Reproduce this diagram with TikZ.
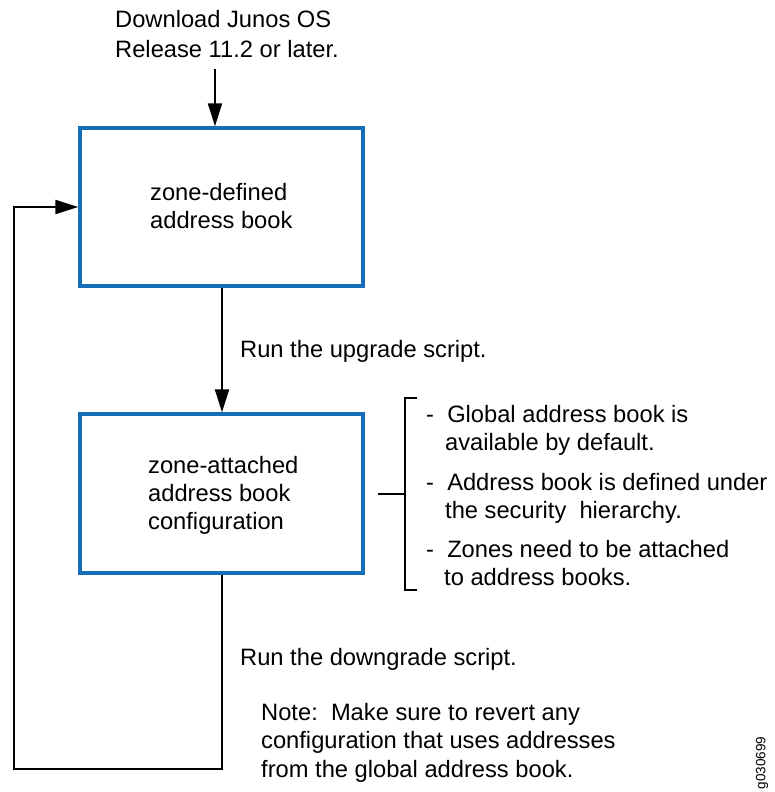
\documentclass[tikz,border=0pt]{standalone}
\usepackage{fontspec}
\setmainfont{Liberation Sans}
\usetikzlibrary{arrows.meta}
\definecolor{boxblue}{RGB}{22,110,184}
\tikzset{
  box/.style={draw=boxblue, line width=3.5pt, rectangle, inner sep=0pt},
  conn/.style={draw=black, line width=2.2pt},
  arr/.style={conn, -{Triangle[length=23pt,width=14pt]}},
  txt/.style={anchor=base west, inner sep=0pt, font=\fontsize{23.7}{28}\selectfont},
}
\begin{document}
\begin{tikzpicture}[x=1pt,y=-1pt]
\useasboundingbox (0,0) rectangle (774,792);
% boxes
\node[box, minimum width=283pt, minimum height=158pt] (b1) at (221.5,207) {};
\node[box, minimum width=283pt, minimum height=159pt] (b2) at (221.5,493.5) {};
% texts
\node[txt] (t1) at (115,28) {Download Junos OS};
\node[txt] (t2) at (115,58) {Release 11.2 or later.};
\node[txt] (b1a) at (150,200) {zone-defined};
\node[txt] (b1b) at (150,228) {address book};
\node[txt] (b2a) at (148,473) {zone-attached};
\node[txt] (b2b) at (148,501) {address book};
\node[txt] (b2c) at (148,529) {configuration};
\node[txt] (up) at (240,357) {Run the upgrade script.};
\node[txt] (down) at (240,665) {Run the downgrade script.};
\node[txt] (n1) at (261,720) {Note:\ \ Make sure to revert any};
\node[txt] (n2) at (261,748) {configuration that uses addresses};
\node[txt] (n3) at (261,777) {from the global address book.};
\node[txt] (l1) at (426,422) {-\ \ Global address book is};
\node[txt] (l2) at (445,450) {available by default.};
\node[txt] (l3) at (426,490) {-\ \ Address book is defined under};
\node[txt] (l4) at (445,518) {the security\ \ hierarchy.};
\node[txt] (l5) at (426,557) {-\ \ Zones need to be attached};
\node[txt] (l6) at (444,585) {to address books.};
\node[anchor=center, rotate=90, inner sep=0pt, font=\fontsize{13.5}{15}\selectfont] (id) at (762,763) {g030699};
% connectors
\coordinate (start) at (215,69);
\draw[arr] (start) -- (b1.north -| start);
\coordinate (mid) at (222,286);
\draw[arr] (b1.south -| mid) -- (b2.north -| mid);
\coordinate (c1) at (222,769);
\coordinate (c2) at (14,769);
\coordinate (c3) at (14,207);
\draw[arr] (b2.south -| c1) -- (c1) -- (c2) -- (c3) -- (b1.west);
% bracket
\coordinate (bt) at (405,398);
\coordinate (bb) at (405,590);
\coordinate (bs) at (378,494);
\draw[conn] (417,398) -- (bt) -- (bb) -- (417,590);
\draw[conn] (bs) -- (bs -| bt);
\end{tikzpicture}
\end{document}
